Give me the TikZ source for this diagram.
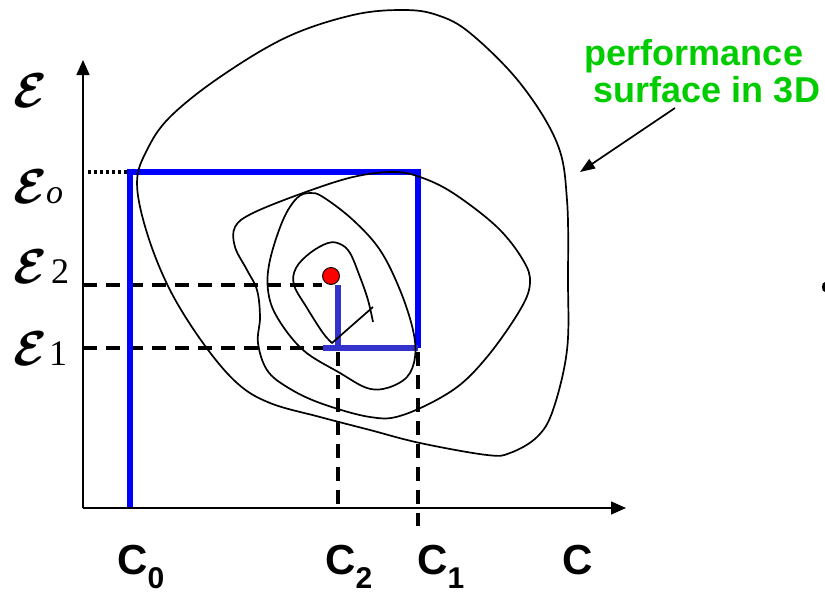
\documentclass[tikz,border=0pt]{standalone}
\usepackage{fontspec}
\usetikzlibrary{arrows.meta}
\newfontfamily\lsans{Liberation Sans}
\newfontfamily\lserif{Liberation Serif}
\definecolor{pgreen}{RGB}{0,204,0}
\definecolor{pblue}{RGB}{0,0,255}
\definecolor{lblue}{RGB}{51,51,204}
\newcommand{\epsglyph}{\scalebox{4.9}{\boldmath$\mathcal{E}$}}
\newcommand{\epssub}[1]{{\fontsize{36}{36}\selectfont\lserif #1}}
\newcommand{\clab}[2]{{\fontsize{42}{42}\selectfont\lsans\bfseries #1\raisebox{-14pt}{\fontsize{30}{30}\selectfont #2}}}
\tikzset{
  axis/.style={line width=1.6pt, -{Triangle[length=15pt,width=13pt]}},
  contour/.style={line width=1.7pt, black},
  bigblue/.style={line width=5.5pt, pblue, line join=miter},
  smallblue/.style={line width=6pt, lblue},
  dashline/.style={line width=3.4pt, dash pattern=on 14pt off 9pt},
  dotline/.style={line width=3.4pt, dash pattern=on 3pt off 3pt},
  lab/.style={anchor=base west, inner sep=0pt},
  greenlab/.style={anchor=base, inner sep=0pt, text=pgreen, font=\fontsize{36}{36}\selectfont\lsans\bfseries},
  callout/.style={line width=1.7pt, -{Triangle[length=15pt,width=11pt]}}
}
\begin{document}
\begin{tikzpicture}[x=1pt,y=-1pt]
\useasboundingbox (0,0) rectangle (825,595);
% key points
\coordinate (O) at (83,508);
\coordinate (ytip) at (83,60);
\coordinate (xtip) at (626,508);
\coordinate (b0) at (130,508);
\coordinate (b1) at (130,172);
\coordinate (b2) at (418,172);
\coordinate (b3) at (418,348);
\coordinate (l1) at (323,348);
\coordinate (l2) at (338,285);
\coordinate (l3) at (338,348);
\coordinate (e2a) at (83,285);
\coordinate (e2b) at (322,285);
\coordinate (e1a) at (83,348);
\coordinate (e1b) at (323,348);
\coordinate (c2top) at (338,352);
\coordinate (c2bot) at (338,508);
\coordinate (c1top) at (418,352);
\coordinate (c1bot) at (418,526);
\coordinate (dota) at (88,172);
\coordinate (dotb) at (128,172);
\coordinate (ca) at (675,108);
\coordinate (cb) at (580,172);

% dashed guides
\draw[dashline] (e2a) -- (e2b);
\draw[dashline] (e1a) -- (e1b);
\draw[dashline] (c2top) -- (c2bot);
\draw[dashline] (c1top) -- (c1bot);
\draw[dotline] (dota) -- (dotb);

% blue search path
\draw[bigblue] (b0) -- (b1) -- (b2) -- (b3);
\draw[smallblue] (l1) -- (b3);
\draw[smallblue] (l2) -- (l3);

% axes
\draw[axis] (O) -- (ytip);
\draw[axis] (O) -- (xtip);

% contours
\draw[contour] plot[smooth cycle, tension=0.6] coordinates {
 (403,10) (437,15) (470,33) (520,83) (557,143) (567,200) (568,280) (567,350)
 (553,410) (537,437) (510,453) (487,455) (420,443) (370,430) (320,417) (270,403)
 (237,383) (203,343) (170,290) (147,233) (137,183) (147,150) (170,117) (220,77)
 (287,37) (353,15)};
\draw[contour] plot[smooth cycle, tension=0.6] coordinates {
 (393,172) (420,177) (453,193) (497,227) (523,260) (530,283) (520,310) (487,357)
 (453,390) (403,415) (370,417) (320,403) (287,387) (267,370) (258,343) (260,317)
 (257,290) (247,270) (235,247) (235,227) (253,213) (303,193) (353,177)};
\draw[contour] plot[smooth cycle, tension=0.6] coordinates {
 (310,193) (323,197) (353,220) (380,250) (400,290) (413,330) (415,357) (407,377)
 (387,388) (367,388) (340,373) (303,350) (277,317) (268,290) (270,260) (283,220)
 (297,198)};
\draw[contour] plot[smooth, tension=0.6] coordinates {
 (373,322) (368,300) (360,277) (350,253) (340,244) (328,243) (310,253) (296,268)
 (294,285) (307,308) (323,333) (332,343)} -- (373,307);

% optimum
\node[circle, fill=red, draw=black, line width=0.9pt, minimum size=17pt, inner sep=0pt] (opt) at (331,276) {};

% y labels
\node[lab] (eps) at (13,107) {\epsglyph};
\node[lab] (epso) at (13,203) {\epsglyph\kern-1pt{\fontsize{34}{34}\selectfont\lserif\itshape o}};
\node[lab] (eps2) at (13,283) {\epsglyph\kern4pt\epssub{2}};
\node[lab] (eps1) at (13,365) {\epsglyph\kern2pt\epssub{1}};

% x labels
\node[lab] (C0) at (117,574) {\clab{C}{0}};
\node[lab] (C2) at (325,574) {\clab{C}{2}};
\node[lab] (C1) at (417,574) {\clab{C}{1}};
\node[lab] (C) at (562,574) {\clab{C}{}};

% callout
\node[greenlab] (perf) at (694,65) {performance};
\node[greenlab] (surf) at (707,102) {surface in 3D};
\draw[callout] (ca) -- (cb);

% partial glyph at right edge
\fill (825,282) .. controls (821,282) and (821,292) .. (825,292) -- cycle;
\end{tikzpicture}
\end{document}
